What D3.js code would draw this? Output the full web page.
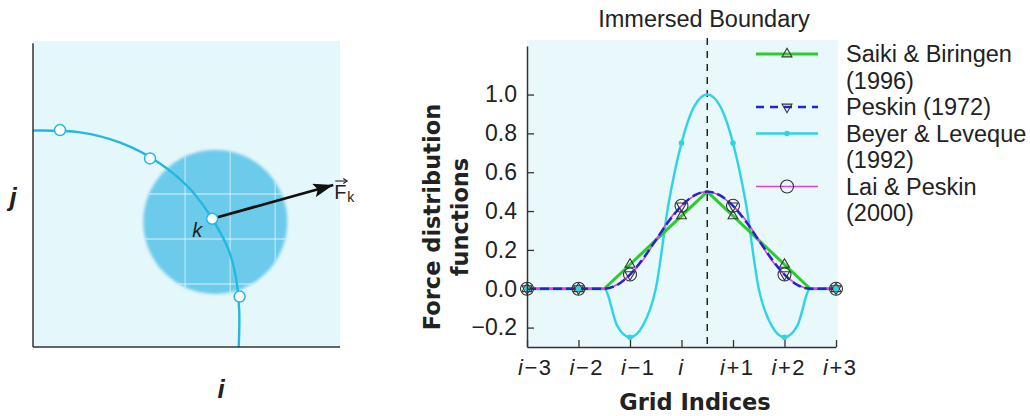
<!DOCTYPE html>
<html>
<head>
<meta charset="utf-8">
<script src="https://cdn.jsdelivr.net/npm/d3@7"></script>
<style>
  body { margin: 0; background: #fff; }
  svg text { font-family: "Liberation Sans", Arial, Helvetica, sans-serif; fill: #222; }
  .bold { font-family: "DejaVu Sans", sans-serif !important; font-weight: bold; }
</style>
</head>
<body>
<div id="figure"></div>
<script>
// ---- right panel data (x in grid units relative to i) ----
var gridIdx = [-3, -2, -1, 0, 1, 2, 3];
var gridLabels = ["i−3", "i−2", "i−1", "i", "i+1", "i+2", "i+3"];
var yTicks = [-0.2, 0, 0.2, 0.4, 0.6, 0.8, 1.0];
var boundaryAt = 0.5;

var saikiX = [-3, -2, -1.5, -1, 0, 0.5, 1, 2, 2.5, 3];
var saikiY = [0, 0, 0, 0.125, 0.375, 0.5, 0.375, 0.125, 0, 0];

var smoothX = [-3, -2, -1.5, -1.25, -1, -0.75, -0.5, -0.25, 0, 0.25, 0.5, 0.75, 1, 1.25, 1.5, 1.75, 2, 2.25, 2.5, 3];
var peskinY = [0, 0, 0, 0.019, 0.073, 0.154, 0.25, 0.346, 0.427, 0.481, 0.5, 0.481, 0.427, 0.346, 0.25, 0.154, 0.073, 0.019, 0, 0];
var laiY = [0, 0, 0, 0.022, 0.073, 0.147, 0.25, 0.353, 0.427, 0.478, 0.5, 0.478, 0.427, 0.353, 0.25, 0.147, 0.073, 0.022, 0, 0];
var beyerY = [0, 0, 0, -0.19, -0.25, -0.19, 0, 0.44, 0.75, 0.94, 1.0, 0.94, 0.75, 0.44, 0, -0.19, -0.25, -0.19, 0, 0];

// values at the grid nodes (markers)
var saikiMk = [0, 0, 0.125, 0.375, 0.375, 0.125, 0];
var peskinMk = [0, 0, 0.073, 0.427, 0.427, 0.073, 0];
var beyerMk = [0, 0, -0.25, 0.75, 0.75, -0.25, 0];
var laiMk = [0, 0, 0.073, 0.427, 0.427, 0.073, 0];

var legendNames = [["Saiki & Biringen", "(1996)"], ["Peskin (1972)"], ["Beyer & Leveque", "(1992)"], ["Lai & Peskin", "(2000)"]];

// ---- left panel data (grid cell units) ----
var boundaryPts = [[-0.38, 4.41], [0.67, 4.37], [1.56, 4.14], [2.44, 3.68], [3.11, 3.11], [3.6, 2.45], [3.96, 1.77], [4.13, 1.13], [4.2, 0.42], [4.19, -0.4]];
var lagrangePts = [[0.22, 4.42], [2.22, 3.79], [4.21, 0.72]];
var kPt = [3.6, 2.45];
var forceEnd = [6.29, 3.2];
var discCenter = [3.67, 2.38];
var discRadius = 1.6;
var discLinesX = [3, 4, 5];
var discLinesY = [1, 2, 3];

var svg = d3.select("#figure").append("svg")
  .attr("width", 1030)
  .attr("height", 416);

var defs = svg.append("defs");
defs.append("marker")
  .attr("id", "arrowhead")
  .attr("viewBox", "0 0 20 14")
  .attr("refX", 20).attr("refY", 7)
  .attr("markerWidth", 20).attr("markerHeight", 14)
  .attr("markerUnits", "userSpaceOnUse")
  .attr("orient", "auto")
  .append("path").attr("d", "M0,0 L20,7 L0,14 L4,7 Z").attr("fill", "#111");
defs.append("filter").attr("id", "soft")
  .append("feGaussianBlur").attr("stdDeviation", 1.6);
defs.append("clipPath").attr("id", "discClip")
  .append("circle");

// ================= left panel =================
var lx = d3.scaleLinear().domain([-0.38, 6.44]).range([33, 340]);
var ly = d3.scaleLinear().domain([-0.4, 6.4]).range([347, 41]);
var left = svg.append("g");

left.append("rect")
  .attr("x", lx(-0.38)).attr("y", ly(6.4))
  .attr("width", lx(6.44) - lx(-0.38)).attr("height", ly(-0.4) - ly(6.4))
  .attr("fill", "#e4f7fb");

// influence disc around k
var rpx = lx(discRadius) - lx(0);
d3.select("#discClip circle").attr("cx", lx(discCenter[0])).attr("cy", ly(discCenter[1])).attr("r", rpx);
left.append("circle")
  .attr("cx", lx(discCenter[0])).attr("cy", ly(discCenter[1])).attr("r", rpx)
  .attr("fill", "#6ccbea")
  .attr("filter", "url(#soft)");
var discGrid = left.append("g").attr("clip-path", "url(#discClip)")
  .attr("stroke", "#ffffff").attr("stroke-opacity", 0.5).attr("stroke-width", 1.3);
discGrid.selectAll(".vx").data(discLinesX).enter().append("line")
  .attr("x1", d => lx(d)).attr("x2", d => lx(d))
  .attr("y1", ly(discCenter[1] + discRadius)).attr("y2", ly(discCenter[1] - discRadius));
discGrid.selectAll(".hy").data(discLinesY).enter().append("line")
  .attr("y1", d => ly(d)).attr("y2", d => ly(d))
  .attr("x1", lx(discCenter[0] - discRadius)).attr("x2", lx(discCenter[0] + discRadius));

// immersed boundary curve
left.append("path")
  .datum(boundaryPts)
  .attr("d", d3.line().x(d => lx(d[0])).y(d => ly(d[1])).curve(d3.curveCatmullRom))
  .attr("fill", "none").attr("stroke", "#22b8e2").attr("stroke-width", 2.4);

// axes of the left panel
left.append("line")
  .attr("x1", lx(-0.38)).attr("x2", lx(-0.38)).attr("y1", ly(6.35)).attr("y2", ly(-0.4))
  .attr("stroke", "#333").attr("stroke-width", 1.5);
left.append("line")
  .attr("x1", lx(-0.38)).attr("x2", lx(6.44)).attr("y1", ly(-0.4)).attr("y2", ly(-0.4))
  .attr("stroke", "#333").attr("stroke-width", 1.5);

// force arrow
left.append("line")
  .attr("x1", lx(kPt[0])).attr("y1", ly(kPt[1]))
  .attr("x2", lx(forceEnd[0])).attr("y2", ly(forceEnd[1]))
  .attr("stroke", "#111").attr("stroke-width", 2.8)
  .attr("marker-end", "url(#arrowhead)");

// Lagrangian points
left.selectAll(".lag").data(lagrangePts.concat([kPt])).enter().append("circle")
  .attr("cx", d => lx(d[0])).attr("cy", d => ly(d[1])).attr("r", 5.5)
  .attr("fill", "#fff").attr("stroke", "#22b8e2").attr("stroke-width", 1.5);

left.append("text")
  .attr("x", lx(kPt[0]) - 20).attr("y", ly(kPt[1]) + 18)
  .style("font-style", "italic").style("font-size", "20px")
  .text("k");

// F_k label with vector arrow
var fx = lx(forceEnd[0]) + 1, fy = ly(forceEnd[1]) + 14;
left.append("text").attr("x", fx).attr("y", fy).style("font-size", "20px").text("F");
left.append("text").attr("x", fx + 13).attr("y", fy + 3).style("font-size", "14px").text("k");
left.append("line").attr("x1", fx + 1).attr("x2", fx + 12).attr("y1", fy - 18).attr("y2", fy - 18)
  .attr("stroke", "#222").attr("stroke-width", 1.1);
left.append("path").attr("d", `M${fx + 9},${fy - 20.5} L${fx + 13},${fy - 18} L${fx + 9},${fy - 15.5}`)
  .attr("fill", "none").attr("stroke", "#222").attr("stroke-width", 1.1);

left.append("text")
  .attr("x", 13).attr("y", 206).attr("text-anchor", "middle")
  .style("font-style", "italic").style("font-weight", "bold").style("font-size", "26px")
  .text("j");
left.append("text")
  .attr("x", 221).attr("y", 398).attr("text-anchor", "middle")
  .style("font-style", "italic").style("font-weight", "bold").style("font-size", "26px")
  .text("i");

// ================= right panel =================
var x = d3.scaleLinear().domain([-3, 3]).range([527, 836]);
var y = d3.scaleLinear().domain([-0.3, 1.25]).range([347, 46]);
var chart = svg.append("g");

chart.append("rect")
  .attr("x", 527).attr("y", 40).attr("width", 311).attr("height", 307)
  .attr("fill", "#e9f8fa");

// immersed boundary marker line
chart.append("line")
  .attr("x1", x(boundaryAt)).attr("x2", x(boundaryAt))
  .attr("y1", 38).attr("y2", y(-0.3))
  .attr("stroke", "#222").attr("stroke-width", 1.5).attr("stroke-dasharray", "7,6");

chart.append("text")
  .attr("x", 704).attr("y", 27).attr("text-anchor", "middle")
  .style("font-size", "23.5px")
  .text("Immersed Boundary");

// curves
var lineLin = d3.line().x(d => x(d[0])).y(d => y(d[1]));
var lineSmooth = d3.line().x(d => x(d[0])).y(d => y(d[1])).curve(d3.curveMonotoneX);

chart.append("path").datum(d3.zip(smoothX, beyerY)).attr("d", lineSmooth)
  .attr("fill", "none").attr("stroke", "#2fd3e8").attr("stroke-width", 2.4);
chart.append("path").datum(d3.zip(saikiX, saikiY)).attr("d", lineLin)
  .attr("fill", "none").attr("stroke", "#2ccc2c").attr("stroke-width", 3);
chart.append("path").datum(d3.zip(smoothX, laiY)).attr("d", lineSmooth)
  .attr("fill", "none").attr("stroke", "#e040e0").attr("stroke-width", 1.6);
chart.append("path").datum(d3.zip(smoothX, peskinY)).attr("d", lineSmooth)
  .attr("fill", "none").attr("stroke", "#2222d8").attr("stroke-width", 2.4)
  .attr("stroke-dasharray", "9,4");

// markers
var tri = d3.symbol().type(d3.symbolTriangle).size(42);
chart.selectAll(".mk-saiki").data(d3.zip(gridIdx, saikiMk)).enter().append("path")
  .attr("d", tri)
  .attr("transform", d => `translate(${x(d[0])},${y(d[1])})`)
  .attr("fill", "none").attr("stroke", "#333").attr("stroke-width", 1.1);
chart.selectAll(".mk-peskin").data(d3.zip(gridIdx, peskinMk)).enter().append("path")
  .attr("d", tri)
  .attr("transform", d => `translate(${x(d[0])},${y(d[1])}) rotate(180)`)
  .attr("fill", "none").attr("stroke", "#333").attr("stroke-width", 1.1);
chart.selectAll(".mk-lai").data(d3.zip(gridIdx, laiMk)).enter().append("circle")
  .attr("cx", d => x(d[0])).attr("cy", d => y(d[1])).attr("r", 6.5)
  .attr("fill", "none").attr("stroke", "#333").attr("stroke-width", 1.1);
chart.selectAll(".mk-beyer").data(d3.zip(gridIdx, beyerMk)).enter().append("circle")
  .attr("cx", d => x(d[0])).attr("cy", d => y(d[1])).attr("r", 2.8)
  .attr("fill", "#2fd3e8");

// axes
var yAxis = d3.axisLeft(y).tickValues(yTicks).tickFormat(d3.format(".1f"))
  .tickSizeInner(-7).tickSizeOuter(0).tickPadding(10);
var yg = chart.append("g").attr("transform", "translate(527,0)").call(yAxis);
yg.selectAll("text").style("font-size", "23px").attr("fill", "#222");

var xAxis = d3.axisBottom(x).tickValues(gridIdx).tickFormat("")
  .tickSizeInner(-7).tickSizeOuter(0);
var xg = chart.append("g").attr("transform", "translate(0,347)").call(xAxis);
[yg, xg].forEach(function(g) {
  g.select(".domain").attr("stroke", "#333").attr("stroke-width", 1.5);
  g.selectAll(".tick line").attr("stroke", "#333").attr("stroke-width", 1.3);
});

// grid index labels: italic i followed by offset
var xl = chart.selectAll(".xlab").data(d3.zip(gridIdx, gridLabels)).enter().append("text")
  .attr("x", d => d[1] === "i" ? x(d[0]) : x(d[0]) - (d[1].indexOf("+") > 0 ? 13 : 9))
  .attr("y", 375)
  .attr("text-anchor", d => d[1] === "i" ? "middle" : "start")
  .style("font-size", "22px").style("letter-spacing", "1.5px");
xl.append("tspan").style("font-style", "italic").text("i");
xl.append("tspan").text(d => d[1].slice(1));

chart.append("text")
  .attr("class", "bold")
  .attr("x", 695).attr("y", 410).attr("text-anchor", "middle")
  .style("font-size", "22.5px")
  .text("Grid Indices");

var ylab = chart.append("text")
  .attr("class", "bold")
  .attr("transform", "translate(440,217) rotate(-90)")
  .attr("text-anchor", "middle")
  .style("font-size", "22.5px");
ylab.append("tspan").attr("x", 0).attr("y", 0).text("Force distribution");
ylab.append("tspan").attr("x", 0).attr("y", 28).text("functions");

// legend
var legendRows = [0, 2, 3, 5];
var legend = chart.append("g");
var lh = 26.5, ly0 = 62;
var legendStyles = [
  { stroke: "#2ccc2c", width: 3, dash: null },
  { stroke: "#2222d8", width: 2.4, dash: "8,6" },
  { stroke: "#2fd3e8", width: 2.4, dash: null },
  { stroke: "#e040e0", width: 1.6, dash: null }
];
legendNames.forEach(function(names, i) {
  var base = ly0 + legendRows[i] * lh;
  var cy = base - 8;
  var st = legendStyles[i];
  legend.append("line")
    .attr("x1", 756).attr("x2", 818).attr("y1", cy).attr("y2", cy)
    .attr("stroke", st.stroke).attr("stroke-width", st.width)
    .attr("stroke-dasharray", st.dash);
  if (i === 0) {
    legend.append("path").attr("d", tri).attr("transform", `translate(787,${cy})`)
      .attr("fill", "none").attr("stroke", "#333").attr("stroke-width", 1.1);
  } else if (i === 1) {
    legend.append("path").attr("d", tri).attr("transform", `translate(787,${cy}) rotate(180)`)
      .attr("fill", "none").attr("stroke", "#333").attr("stroke-width", 1.1);
  } else if (i === 2) {
    legend.append("circle").attr("cx", 787).attr("cy", cy).attr("r", 2.8).attr("fill", "#2fd3e8");
  } else {
    legend.append("circle").attr("cx", 787).attr("cy", cy).attr("r", 6.5)
      .attr("fill", "none").attr("stroke", "#333").attr("stroke-width", 1.1);
  }
  names.forEach(function(n, j) {
    legend.append("text")
      .attr("x", 846).attr("y", base + j * lh)
      .style("font-size", "23.5px")
      .text(n);
  });
});
</script>
</body>
</html>
